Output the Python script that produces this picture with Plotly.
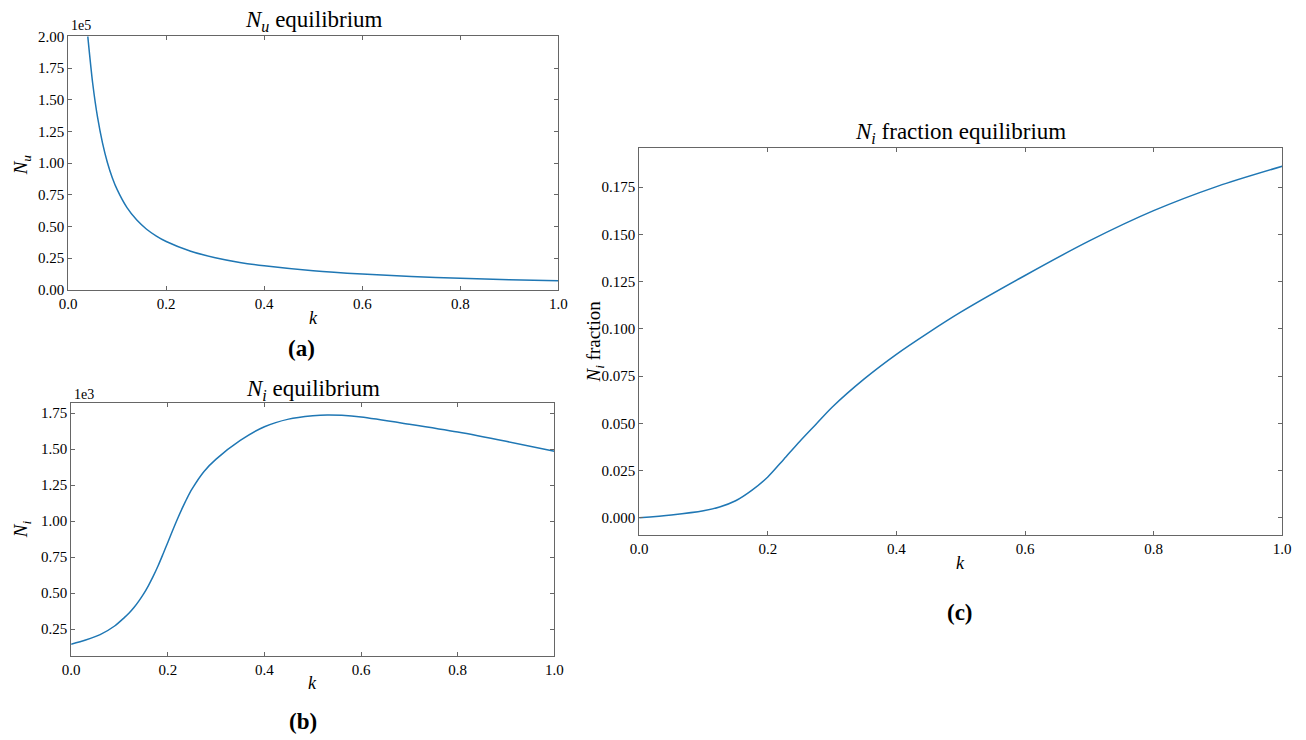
import plotly.graph_objects as go

# ---------------- data ----------------
# (a) N_u equilibrium, values in units of 1e5
k_a = [0.04, 0.05, 0.06, 0.07, 0.08, 0.09, 0.10, 0.12, 0.14, 0.16, 0.18,
       0.20, 0.25, 0.30, 0.35, 0.40, 0.50, 0.60, 0.70, 0.80, 0.90, 1.00]
nu_1e5 = [2.00, 1.63, 1.36, 1.16, 1.005, 0.885, 0.79, 0.648, 0.55, 0.478, 0.424,
          0.381, 0.304, 0.253, 0.216, 0.189, 0.150, 0.124, 0.105, 0.091, 0.080, 0.071]

# (b) N_i equilibrium, values in units of 1e3
k_b = [0.0, 0.03, 0.06, 0.09, 0.11, 0.12, 0.13, 0.14, 0.15, 0.16, 0.17, 0.18, 0.19, 0.20,
       0.21, 0.22, 0.23, 0.24, 0.25, 0.275, 0.30, 0.35, 0.40, 0.45, 0.50, 0.53, 0.56, 0.60,
       0.70, 0.80, 0.90, 1.00]
ni_1e3 = [0.146, 0.175, 0.212, 0.272, 0.33, 0.362, 0.40, 0.445, 0.495, 0.553, 0.618, 0.69,
          0.77, 0.852, 0.935, 1.015, 1.09, 1.16, 1.222, 1.345, 1.43, 1.56, 1.655, 1.708, 1.731,
          1.737, 1.734, 1.722, 1.672, 1.618, 1.554, 1.485]

# (c) N_i fraction equilibrium
k_c = [0.0, 0.05, 0.10, 0.125, 0.15, 0.175, 0.20, 0.225, 0.25, 0.275, 0.30, 0.35, 0.40,
       0.45, 0.50, 0.60, 0.70, 0.80, 0.90, 1.00]
ni_frac = [0.0, 0.0015, 0.0037, 0.0057, 0.009, 0.0145, 0.0216, 0.031, 0.0405, 0.0495, 0.0585,
           0.0735, 0.0865, 0.098, 0.1088, 0.1282, 0.1465, 0.1625, 0.1755, 0.1860]

x_ticks = [0.0, 0.2, 0.4, 0.6, 0.8, 1.0]

# ---------------- figure ----------------
W, H = 1306, 740
FONT = "Liberation Serif, Times New Roman, serif"
LINE = "#1f77b4"
AX = "#666666"


def px(x):
    return x / W


def py(y):
    return 1 - y / H


fig = go.Figure()
fig.add_trace(go.Scatter(x=k_a, y=nu_1e5, mode="lines",
                         line=dict(color=LINE, width=1.5, shape="spline", smoothing=0.8),
                         xaxis="x", yaxis="y", showlegend=False))
fig.add_trace(go.Scatter(x=k_b, y=ni_1e3, mode="lines",
                         line=dict(color=LINE, width=1.5, shape="spline", smoothing=0.8),
                         xaxis="x2", yaxis="y2", showlegend=False))
fig.add_trace(go.Scatter(x=k_c, y=ni_frac, mode="lines",
                         line=dict(color=LINE, width=1.5, shape="spline", smoothing=0.8),
                         xaxis="x3", yaxis="y3", showlegend=False))

common = dict(showline=True, linecolor=AX, linewidth=1, mirror="ticks", ticks="inside",
              ticklen=4, tickcolor=AX, tickwidth=1, showgrid=False, zeroline=False,
              tickfont=dict(family=FONT, size=15, color="black"))

xcommon = dict(common, tickvals=x_ticks, tickformat=".1f", range=[0, 1])

fig.update_layout(
    width=W, height=H, margin=dict(l=0, r=0, t=0, b=0),
    paper_bgcolor="white", plot_bgcolor="white",
    font=dict(family=FONT, color="black"),
    xaxis=dict(xcommon, domain=[px(60), px(557)], anchor="y"),
    yaxis=dict(common, domain=[py(288), py(29)], anchor="x", range=[0, 2.0],
               tick0=0, dtick=0.25, tickformat=".2f"),
    xaxis2=dict(xcommon, domain=[px(63), px(553)], anchor="y2"),
    yaxis2=dict(common, domain=[py(662), py(404)], anchor="x2", range=[0.066, 1.818],
                tick0=0, dtick=0.25, tickformat=".2f"),
    xaxis3=dict(xcommon, domain=[px(639), px(1291)], anchor="y3"),
    yaxis3=dict(common, domain=[py(539), py(143)], anchor="x3", range=[-0.0093, 0.1957],
                tick0=0, dtick=0.025, tickformat=".3f"),
)

ann = []


def text(x, y, s, size, xanchor="center", yanchor="middle", **kw):
    ann.append(dict(x=px(x), y=py(y), xref="paper", yref="paper", text=s, showarrow=False,
                    xanchor=xanchor, yanchor=yanchor,
                    font=dict(family=FONT, size=size, color="black"), **kw))


# titles
text(309, 13, "<i>N</i><sub><i>u</i></sub> equilibrium", 23)
text(308, 390, "<i>N</i><sub><i>i</i></sub> equilibrium", 23)
text(965, 128, "<i>N</i><sub><i>i</i></sub> fraction equilibrium", 23)
# offset texts
text(61, 18, "1e5", 14, xanchor="left")
text(64, 395, "1e3", 14, xanchor="left")
# x labels
text(309, 317, "<i>k</i>", 18)
text(308, 690, "<i>k</i>", 18)
text(965, 567, "<i>k</i>", 18)
# y labels
text(13, 160, "<i>N</i><sub><i>u</i></sub>", 19, textangle=-90)
text(14, 533, "<i>N</i><sub><i>i</i></sub>", 19, textangle=-90)
text(594, 341, "<i>N</i><sub><i>i</i></sub> fraction", 19, textangle=-90)
# panel labels
text(297, 348, "<b>(a)</b>", 23)
text(298, 729, "<b>(b)</b>", 23)
text(964, 618, "<b>(c)</b>", 23)

fig.update_layout(annotations=ann)
fig.write_html("out.html")
